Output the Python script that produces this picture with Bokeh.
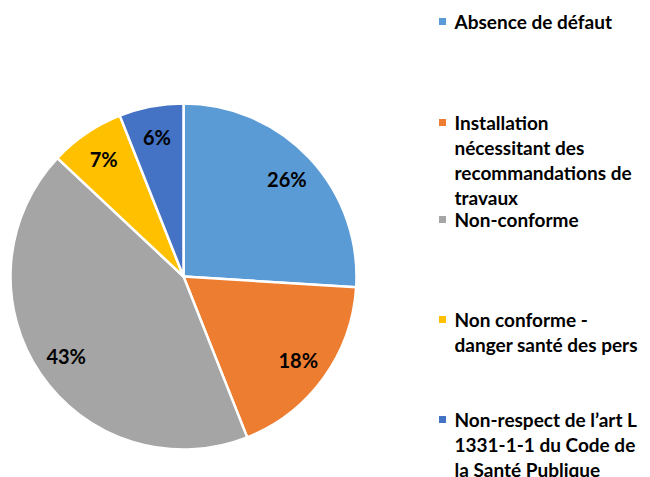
import math
from bokeh.plotting import figure
from bokeh.models import Range1d, ColumnDataSource
from bokeh.core.properties import value
from bokeh.embed import file_html
from bokeh.resources import INLINE

# ---- data ----
categories = [
    "Absence de défaut",
    "Installation\nnécessitant des\nrecommandations de\ntravaux",
    "Non-conforme",
    "Non conforme -\ndanger santé des pers",
    "Non-respect de l\u2019art L\n1331-1-1 du Code de\nla Santé Publique",
]
shares = [26, 18, 43, 7, 6]
colors = ["#5B9BD5", "#ED7D31", "#A5A5A5", "#FFC000", "#4472C4"]

W, H = 650, 477
p = figure(width=W, height=H, output_backend="svg", toolbar_location=None,
           x_range=Range1d(0, W), y_range=Range1d(0, H),
           min_border=0)
p.axis.visible = False
p.grid.visible = False
p.outline_line_color = None
p.background_fill_color = "white"

# pie geometry (y_data = H - y_img)
cx, cy, r = 183, H - 276, 173
total = sum(shares)
cum = 0
starts, ends, lx, ly, labels = [], [], [], [], []
for s in shares:
    a0 = cum / total
    a1 = (cum + s) / total
    cum += s
    starts.append(math.pi / 2 - a1 * 2 * math.pi)
    ends.append(math.pi / 2 - a0 * 2 * math.pi)
    mid = (a0 + a1) / 2 * 2 * math.pi
    lx.append(cx + 0.82 * r * math.sin(mid))
    ly.append(cy + 0.82 * r * math.cos(mid))
    labels.append(f"{round(s / total * 100)}%")

src = ColumnDataSource(dict(start=starts, end=ends, color=colors))
p.wedge(x=cx, y=cy, radius=r, start_angle="start", end_angle="end",
        fill_color="color", line_color="white", line_width=2.5, source=src)

p.text(x=lx, y=ly, text=labels, text_align="center", text_baseline="middle",
       text_font=value("Lato"), text_font_style="bold", text_font_size="20px",
       text_color="#000000")

# legend
leg_y_img = [21, 122, 219, 319, 419]
line_gap = 25
mx = 442
p.scatter(x=[mx] * 5, y=[H - v for v in leg_y_img], marker="square", size=7,
          fill_color=colors, line_color=None)
tx, ty, tt = [], [], []
for cat, y0 in zip(categories, leg_y_img):
    for i, line in enumerate(cat.split("\n")):
        tx.append(454)
        ty.append(H - (y0 + i * line_gap))
        tt.append(line)
p.text(x=tx, y=ty, text=tt, text_align="left", text_baseline="middle",
       text_font=value("Lato"), text_font_style="bold", text_font_size="19px",
       text_color="#000000")

open("out.html", "w").write(file_html(p, INLINE))
